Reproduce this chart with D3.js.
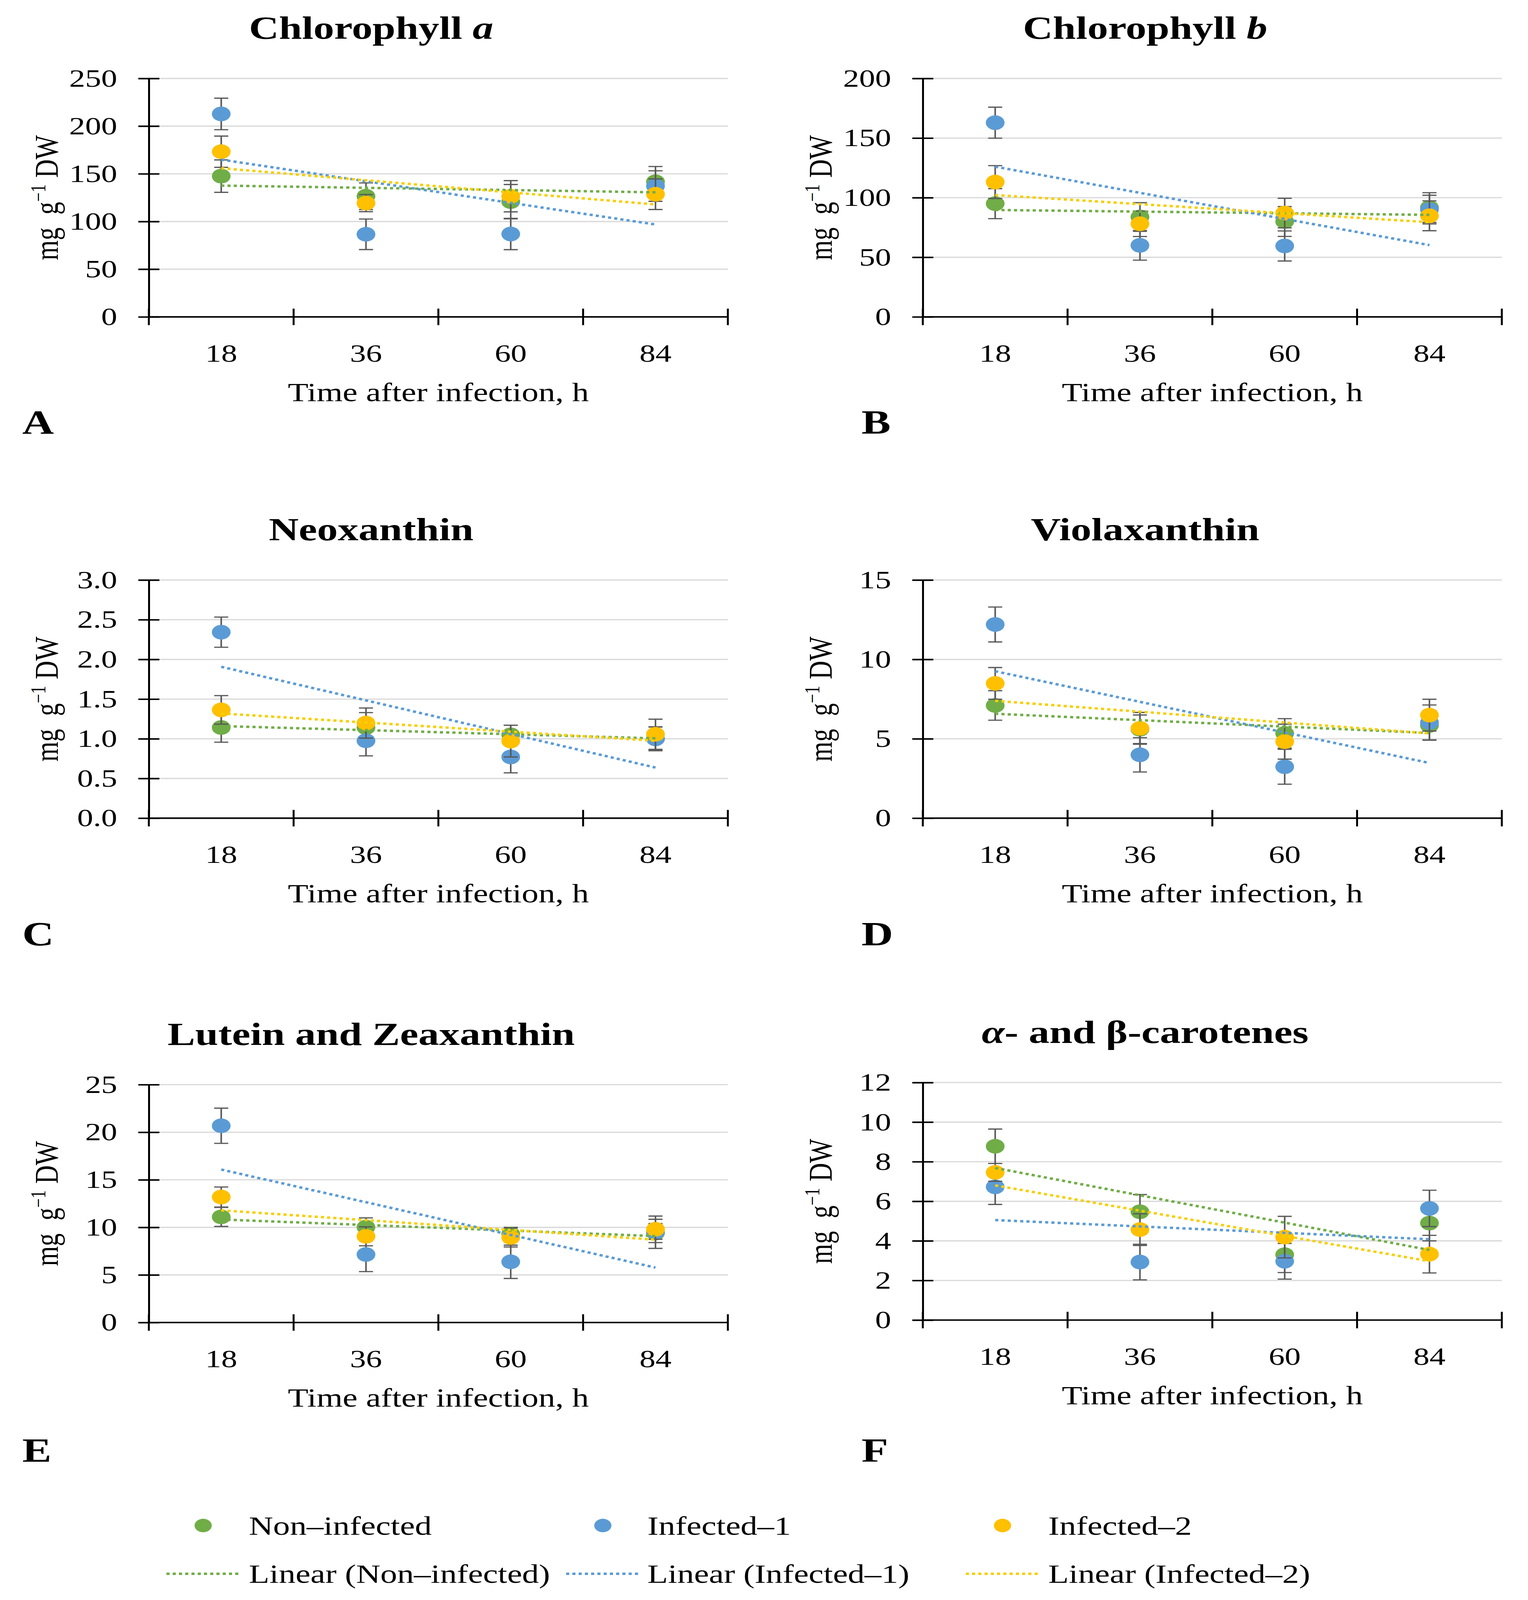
<!DOCTYPE html>
<html>
<head>
<meta charset="utf-8">
<script src="https://cdn.jsdelivr.net/npm/d3@7"></script>
<style>
  html, body { margin: 0; padding: 0; background: #fff; overflow: hidden; }
  #fig { display: block; width: 100vw; height: 100vh; }
  svg text { font-family: "Liberation Serif", "Times New Roman", serif; fill: #000; }
</style>
</head>
<body>
<svg id="fig"></svg>
<script>
const times = ["18", "36", "60", "84"];
const seriesNames = ["Non\u2013infected", "Infected\u20131", "Infected\u20132"];

// mean values, one row per series: non-infected, infected-1, infected-2
const chlA_mean = [[147.6, 126.5, 120.8, 141.7], [212.8, 86.6, 86.9, 137.2], [173.2, 119.3, 126.5, 128.6]];
const chlA_err  = [[17, 14, 18, 16], [16.5, 16, 16.4, 16], [16.4, 9, 16.4, 16]];
const chlB_mean = [[95, 83.8, 80, 91.7], [162.9, 60, 59.5, 90], [113.1, 78.1, 87.1, 84.8]];
const chlB_err  = [[12.6, 12, 12.5, 12.5], [13, 12.4, 12.6, 12], [13.8, 10.7, 12.4, 12.5]];
const neo_mean  = [[1.142, 1.14, 1.05, 1.0], [2.343, 0.975, 0.771, 1.0], [1.364, 1.198, 0.971, 1.057]];
const neo_err   = [[0.185, 0.19, 0.12, 0.15], [0.19, 0.19, 0.2, 0.15], [0.18, 0.19, 0.2, 0.19]];
const vio_mean  = [[7.10, 5.6, 5.34, 5.84], [12.2, 3.99, 3.24, 6.03], [8.49, 5.66, 4.82, 6.49]];
const vio_err   = [[0.93, 0.9, 0.93, 0.93], [1.1, 1.08, 1.1, 1.1], [1.0, 1.0, 1.1, 1.0]];
const lut_mean  = [[11.1, 10.02, 9.3, 9.4], [20.68, 7.15, 6.38, 9.49], [13.19, 9.06, 8.94, 9.8]];
const lut_err   = [[1.0, 0.98, 0.7, 1.0], [1.85, 1.8, 1.75, 1.7], [1.05, 1.0, 1.0, 1.05]];
const car_mean  = [[8.78, 5.47, 3.30, 4.9], [6.73, 2.93, 2.97, 5.64], [7.46, 4.57, 4.19, 3.33]];
const car_err   = [[0.87, 0.87, 0.9, 0.9], [0.89, 0.9, 0.9, 0.92], [0.45, 0.8, 1.05, 0.95]];

const ticksA = [0, 50, 100, 150, 200, 250];
const ticksB = [0, 50, 100, 150, 200];
const ticksC = [0, 0.5, 1.0, 1.5, 2.0, 2.5, 3.0];
const ticksD = [0, 5, 10, 15];
const ticksE = [0, 5, 10, 15, 20, 25];
const ticksF = [0, 2, 4, 6, 8, 10, 12];

const COLORS = ["#70AD47", "#5B9BD5", "#FFC000"];
const TREND = ["#70AD47", "#5B9BD5", "#F5CF00"];
const W = 3911, H = 5241, PW = 1482;

// the drawing is laid out on the 3911x5241 sheet and stretched onto the window
const svg = d3.select("#fig").attr("viewBox", `0 0 ${W} ${H}`).attr("preserveAspectRatio", "none");
svg.append("rect").attr("width", W).attr("height", H).attr("fill", "#fff");

const panels = [
  { title: [["Chlorophyll ", 0], ["a", 1]], mean: chlA_mean, err: chlA_err, ticks: ticksA, fmt: d3.format("d"),
    x0: 381, top: 257, bottom: 1038, letter: "A", letterY: 1420 },
  { title: [["Chlorophyll ", 0], ["b", 1]], mean: chlB_mean, err: chlB_err, ticks: ticksB, fmt: d3.format("d"),
    x0: 2362, top: 257, bottom: 1038, letter: "B", letterY: 1420 },
  { title: [["Neoxanthin", 0]], mean: neo_mean, err: neo_err, ticks: ticksC, fmt: d3.format(".1f"),
    x0: 381, top: 1900, bottom: 2680, letter: "C", letterY: 3097 },
  { title: [["Violaxanthin", 0]], mean: vio_mean, err: vio_err, ticks: ticksD, fmt: d3.format("d"),
    x0: 2362, top: 1900, bottom: 2680, letter: "D", letterY: 3097 },
  { title: [["Lutein and Zeaxanthin", 0]], mean: lut_mean, err: lut_err, ticks: ticksE, fmt: d3.format("d"),
    x0: 381, top: 3553, bottom: 4332, letter: "E", letterY: 4788 },
  { title: [["\u03B1", 1], ["- and \u03B2-carotenes", 0]], mean: car_mean, err: car_err, ticks: ticksF, fmt: d3.format("d"),
    x0: 2362, top: 3546, bottom: 4324, letter: "F", letterY: 4788 }
];

// least squares line over category index 1..n
function linearFit(vals) {
  const xs = vals.map((v, i) => i + 1);
  const mx = d3.mean(xs), my = d3.mean(vals);
  let sxy = 0, sxx = 0;
  xs.forEach((xv, i) => { sxy += (xv - mx) * (vals[i] - my); sxx += (xv - mx) * (xv - mx); });
  const b = sxy / sxx;
  return xv => my + b * (xv - mx);
}

function drawPanel(p) {
  const g = svg.append("g");
  const x = d3.scaleBand().domain(times).range([p.x0, p.x0 + PW]);
  const y = d3.scaleLinear().domain([0, d3.max(p.ticks)]).range([p.bottom, p.top]);
  const cx = t => x(t) + x.bandwidth() / 2;

  // gridlines
  g.selectAll("line.grid").data(p.ticks.slice(1)).join("line")
    .attr("x1", p.x0).attr("x2", p.x0 + PW)
    .attr("y1", d => y(d)).attr("y2", d => y(d))
    .attr("stroke", "#d9d9d9").attr("stroke-width", 4);

  // y axis
  const ya = g.append("g").attr("transform", `translate(${p.x0},0)`)
    .call(d3.axisLeft(y).tickValues(p.ticks).tickFormat(p.fmt).tickSizeInner(27).tickSizeOuter(0).tickPadding(54));
  ya.attr("font-family", null).attr("font-size", 82);
  ya.select(".domain").attr("stroke", "#000").attr("stroke-width", 5);
  ya.selectAll(".tick line").attr("x1", 27).attr("x2", -27).attr("stroke", "#000").attr("stroke-width", 5);
  ya.selectAll(".tick text").attr("fill", "#000");

  // x axis, ticks between categories
  g.append("line").attr("x1", p.x0).attr("x2", p.x0 + PW).attr("y1", p.bottom).attr("y2", p.bottom)
    .attr("stroke", "#000").attr("stroke-width", 5);
  const edges = times.map(t => x(t)).concat([p.x0 + PW]);
  g.selectAll("line.xt").data(edges).join("line")
    .attr("x1", d => d).attr("x2", d => d).attr("y1", p.bottom - 27).attr("y2", p.bottom + 27)
    .attr("stroke", "#000").attr("stroke-width", 5);
  g.selectAll("text.xl").data(times).join("text")
    .attr("x", cx).attr("y", p.bottom + 147).attr("text-anchor", "middle").attr("font-size", 82)
    .text(d => d);

  // axis titles
  g.append("text").attr("x", p.x0 + PW / 2).attr("y", p.bottom + 276).attr("text-anchor", "middle")
    .attr("font-size", 86).text("Time after infection, h");
  const yl = g.append("text")
    .attr("transform", `translate(${p.x0 - 262},${(p.top + p.bottom) / 2}) rotate(-90)`)
    .attr("text-anchor", "middle").attr("dy", "0.35em").attr("font-size", 84);
  yl.append("tspan").text("mg\u00A0\u00A0g");
  yl.append("tspan").attr("dy", -32).attr("font-size", 54).text("\u22121");
  yl.append("tspan").attr("dy", 32).text("\u00A0DW");

  // chart title
  const tt = g.append("text").attr("x", p.x0 + 569).attr("y", p.top - 130).attr("text-anchor", "middle")
    .attr("font-size", 106).attr("font-weight", "bold");
  p.title.forEach(([s, it]) => tt.append("tspan").attr("font-style", it ? "italic" : "normal").text(s));

  // panel letter
  g.append("text").attr("x", p.x0 < 1000 ? 57 : 2205).attr("y", p.letterY)
    .attr("font-size", 112).attr("font-weight", "bold").text(p.letter);

  // series: error bars then markers
  p.mean.forEach((vals, s) => {
    const sg = g.append("g");
    const pts = vals.map((v, i) => ({ t: times[i], v: v, e: p.err[s][i] }));
    sg.selectAll("line.eb").data(pts).join("line")
      .attr("x1", d => cx(d.t)).attr("x2", d => cx(d.t))
      .attr("y1", d => y(d.v - d.e)).attr("y2", d => y(d.v + d.e))
      .attr("stroke", "#595959").attr("stroke-width", 4);
    ["lo", "hi"].forEach(k => {
      sg.selectAll("line.cap" + k).data(pts).join("line")
        .attr("x1", d => cx(d.t) - 18).attr("x2", d => cx(d.t) + 18)
        .attr("y1", d => y(k === "lo" ? d.v - d.e : d.v + d.e))
        .attr("y2", d => y(k === "lo" ? d.v - d.e : d.v + d.e))
        .attr("stroke", "#595959").attr("stroke-width", 4);
    });
    sg.selectAll("circle").data(pts).join("circle")
      .attr("cx", d => cx(d.t)).attr("cy", d => y(d.v)).attr("r", 24)
      .attr("fill", COLORS[s]);
  });

  // linear trendlines
  p.mean.forEach((vals, s) => {
    const f = linearFit(vals);
    g.append("line")
      .attr("x1", cx(times[0])).attr("x2", cx(times[times.length - 1]))
      .attr("y1", y(f(1))).attr("y2", y(f(times.length)))
      .attr("stroke", TREND[s]).attr("stroke-width", 8).attr("stroke-dasharray", "8,8");
  });
}

panels.forEach(drawPanel);

// legend
const legX = [520, 1543, 2566];
const legTextX = [637, 1657, 2683];
const lg = svg.append("g");
seriesNames.forEach((name, i) => {
  lg.append("circle").attr("cx", legX[i]).attr("cy", 4997).attr("r", 22).attr("fill", COLORS[i]);
  lg.append("text").attr("x", legTextX[i]).attr("y", 5027).attr("font-size", 86).text(name);
  lg.append("line").attr("x1", legX[i] - 94).attr("x2", legX[i] + 94).attr("y1", 5155).attr("y2", 5155)
    .attr("stroke", TREND[i]).attr("stroke-width", 8).attr("stroke-dasharray", "8,8");
  lg.append("text").attr("x", legTextX[i]).attr("y", 5185).attr("font-size", 86).text(`Linear (${name})`);
});
</script>
</body>
</html>
